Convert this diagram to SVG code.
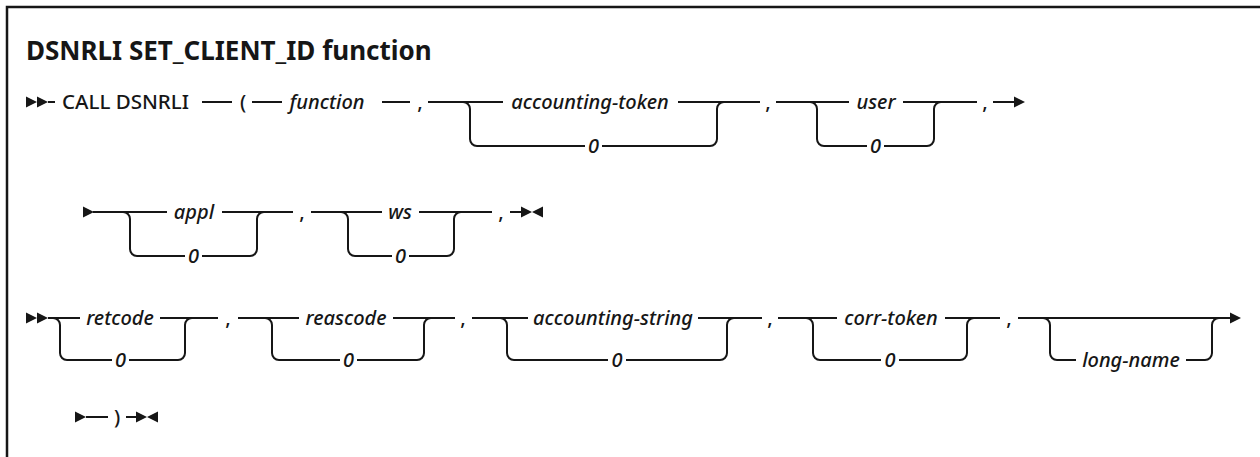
<svg xmlns="http://www.w3.org/2000/svg" width="1260" height="457" viewBox="0 0 1260 457">
<style>
.t{font-family:"Noto Sans","Liberation Sans",sans-serif;font-size:20px;font-weight:500;fill:#161616}
.v{font-style:italic}
.m{text-anchor:middle}
.title{font-family:"Noto Sans","Liberation Sans",sans-serif;font-size:26px;font-weight:bold;fill:#161616}
.ln{fill:none;stroke:#161616;stroke-width:2}
.ar{fill:#161616}
</style>
<defs>
<path id="rt" d="M0,-5.5 L11,0 L0,5.5 Z"/>
<path id="lt" d="M11,-5.5 L0,0 L11,5.5 Z"/>
</defs>
<rect x="7" y="7" width="1300" height="500" fill="#fff" stroke="#161616" stroke-width="2.5"/>
<text class="title" x="26" y="60">DSNRLI SET_CLIENT_ID function</text>

<g id="connectors">
<!-- row 1 -->
<path class="ln" d="M48,102H55 M202,102H232 M252,102H282 M382,102H410 M428,102H503 M678,102H760 M776,102H849 M903,102H977 M993,102H1014"/>
<path class="ln" d="M463,102 A7,7 0 0 1 470,109 V139 A7,7 0 0 0 477,146 H585 M602,146 H710 A7,7 0 0 0 717,139 V109 A7,7 0 0 1 724,102"/>
<path class="ln" d="M810,102 A7,7 0 0 1 817,109 V139 A7,7 0 0 0 824,146 H867 M884,146 H927 A7,7 0 0 0 934,139 V109 A7,7 0 0 1 941,102"/>
<!-- row 2 -->
<path class="ln" d="M93,212H167 M222,212H293 M311,212H382 M419,212H492 M510,212H521"/>
<path class="ln" d="M123,212 A7,7 0 0 1 130,219 V249 A7,7 0 0 0 137,256 H185 M202,256 H250 A7,7 0 0 0 257,249 V219 A7,7 0 0 1 264,212"/>
<path class="ln" d="M341,212 A7,7 0 0 1 348,219 V249 A7,7 0 0 0 355,256 H392 M409,256 H447 A7,7 0 0 0 454,249 V219 A7,7 0 0 1 461,212"/>
<!-- row 3 -->
<path class="ln" d="M48,318H80 M160,318H218 M238,318H299 M393,318H455 M472,318H528 M698,318H762 M778,318H837 M945,318H1000 M1018,318H1230"/>
<path class="ln" d="M53,318 A7,7 0 0 1 60,325 V353 A7,7 0 0 0 67,360 H112 M129,360 H178 A7,7 0 0 0 185,353 V325 A7,7 0 0 1 192,318"/>
<path class="ln" d="M265,318 A7,7 0 0 1 272,325 V353 A7,7 0 0 0 279,360 H340 M357,360 H417 A7,7 0 0 0 424,353 V325 A7,7 0 0 1 431,318"/>
<path class="ln" d="M500,318 A7,7 0 0 1 507,325 V353 A7,7 0 0 0 514,360 H608 M626,360 H720 A7,7 0 0 0 727,353 V325 A7,7 0 0 1 734,318"/>
<path class="ln" d="M806,318 A7,7 0 0 1 813,325 V353 A7,7 0 0 0 820,360 H881 M899,360 H960 A7,7 0 0 0 967,353 V325 A7,7 0 0 1 974,318"/>
<path class="ln" d="M1043,318 A7,7 0 0 1 1050,325 V353 A7,7 0 0 0 1057,360 H1076 M1186,360 H1205 A7,7 0 0 0 1212,353 V325 A7,7 0 0 1 1219,318"/>
<!-- row 4 -->
<path class="ln" d="M86,417H108 M126,417H136"/>
<!-- arrowheads -->
<use href="#rt" class="ar" x="26" y="102"/><use href="#rt" class="ar" x="37" y="102"/>
<use href="#rt" class="ar" x="1014" y="102"/>
<use href="#rt" class="ar" x="83" y="212"/>
<use href="#rt" class="ar" x="521" y="212"/><use href="#lt" class="ar" x="532" y="212"/>
<use href="#rt" class="ar" x="26" y="318"/><use href="#rt" class="ar" x="37" y="318"/>
<use href="#rt" class="ar" x="1230" y="318"/>
<use href="#rt" class="ar" x="75" y="417"/>
<use href="#rt" class="ar" x="136" y="417"/><use href="#lt" class="ar" x="147" y="417"/>
</g>

<g id="row1">
<text class="t" x="62" y="109" textLength="127" lengthAdjust="spacingAndGlyphs">CALL DSNRLI</text>
<text class="t m" x="243" y="109">(</text>
<g id="n-function"><text class="t v m" x="327" y="109">function</text></g>
<text class="t m" x="420" y="109">,</text>
<g id="n-accounting-token"><text class="t v m" x="590" y="109">accounting-token</text><text class="t v m" x="593.5" y="153">0</text></g>
<text class="t m" x="768" y="109">,</text>
<g id="n-user"><text class="t v m" x="876" y="109">user</text><text class="t v m" x="875.5" y="153">0</text></g>
<text class="t m" x="985" y="109">,</text>
</g>

<g id="row2">
<g id="n-appl"><text class="t v m" x="194" y="219">appl</text><text class="t v m" x="193.5" y="263">0</text></g>
<text class="t m" x="302" y="219">,</text>
<g id="n-ws"><text class="t v m" x="400" y="219">ws</text><text class="t v m" x="400.5" y="263">0</text></g>
<text class="t m" x="501" y="219">,</text>
</g>

<g id="row3">
<g id="n-retcode"><text class="t v m" x="120" y="325">retcode</text><text class="t v m" x="120.5" y="367">0</text></g>
<text class="t m" x="228" y="325">,</text>
<g id="n-reascode"><text class="t v m" x="346" y="325">reascode</text><text class="t v m" x="348.5" y="367">0</text></g>
<text class="t m" x="463" y="325">,</text>
<g id="n-accounting-string"><text class="t v m" x="613" y="325">accounting-string</text><text class="t v m" x="617" y="367">0</text></g>
<text class="t m" x="770" y="325">,</text>
<g id="n-corr-token"><text class="t v m" x="891" y="325">corr-token</text><text class="t v m" x="890" y="367">0</text></g>
<text class="t m" x="1009" y="325">,</text>
<g id="n-long-name"><text class="t v m" x="1131" y="367">long-name</text></g>
</g>

<g id="row4">
<text class="t m" x="117" y="424">)</text>
</g>
</svg>
